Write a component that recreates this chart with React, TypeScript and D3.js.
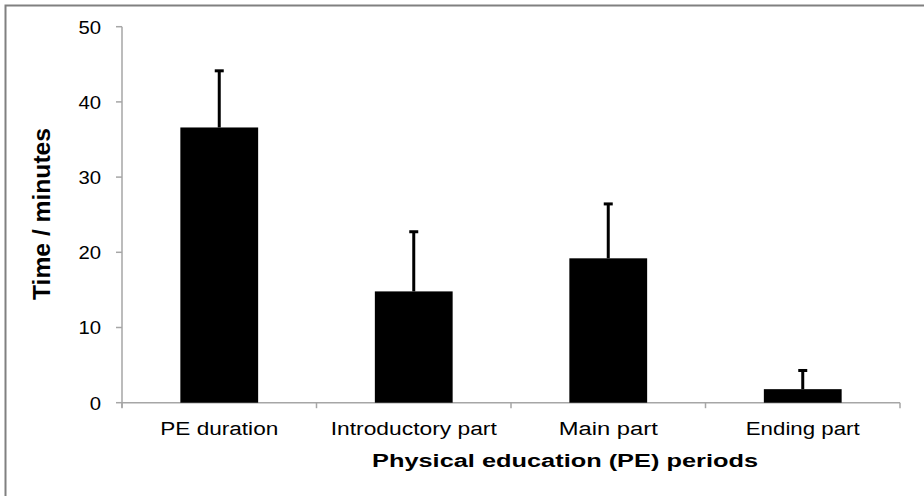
import React from 'react';
import * as d3 from 'd3';

// valores
const categories = ['PE duration', 'Introductory part', 'Main part', 'Ending part'];
const means = [36.6, 14.8, 19.2, 1.8];
const sds = [7.6, 8.0, 7.3, 2.55];
const yTicks = [0, 10, 20, 30, 40, 50];
// largura medida dos rótulos (texto esticado no original)
const labelWidths = [118, 166, 99, 114];

const App = () => {
  const width = 924;
  const height = 496;
  const left = 122;
  const right = 900;
  const top = 26.7;
  const bottom = 402.7;
  const axisColor = '#a6a6a6';
  const font = '"Liberation Sans", Arial, sans-serif';

  const x = d3
    .scaleBand<string>()
    .domain(categories)
    .range([left, right])
    .paddingInner(0.6)
    .paddingOuter(0.3);
  const y = d3.scaleLinear().domain([0, 50]).range([bottom, top]);
  const step = x.step();
  const bounds = d3.range(categories.length + 1).map((i) => left + i * step);

  return (
    <svg
      width={width}
      height={height}
      style={{ position: 'absolute', left: 0, top: 0, background: '#fff' }}
    >
      <rect x={0} y={0} width={width} height={height} fill="#fff" />
      {/* moldura */}
      <rect x={5.5} y={5.5} width={width + 20} height={height + 20} fill="none" stroke="#808080" strokeWidth={2} />

      {/* eixo Y */}
      <line x1={left} x2={left} y1={top} y2={bottom + 5} stroke={axisColor} strokeWidth={1.5} />
      {yTicks.map((t) => (
        <g key={t}>
          <line x1={left - 6} x2={left} y1={y(t)} y2={y(t)} stroke={axisColor} strokeWidth={1.5} />
          <text
            x={101}
            y={y(t) + 6.8}
            textAnchor="end"
            fontFamily={font}
            fontSize={18}
            textLength={String(t).length * 11.3}
            lengthAdjust="spacingAndGlyphs"
            fill="#000"
          >
            {t}
          </text>
        </g>
      ))}

      {/* eixo X */}
      <line x1={left} x2={right} y1={bottom} y2={bottom} stroke={axisColor} strokeWidth={1.5} />
      {bounds.map((b, i) => (
        <line key={i} x1={b} x2={b} y1={bottom} y2={bottom + 5.5} stroke={axisColor} strokeWidth={1.5} />
      ))}

      {/* barras */}
      {categories.map((c, i) => (
        <rect key={c} x={x(c)} y={y(means[i])} width={x.bandwidth()} height={y(0) - y(means[i])} fill="#000" />
      ))}

      {/* barras de erro */}
      {categories.map((c, i) => {
        const cx = (x(c) || 0) + x.bandwidth() / 2;
        const yt = y(means[i] + sds[i]);
        return (
          <g key={c}>
            <line x1={cx} x2={cx} y1={y(means[i])} y2={yt} stroke="#000" strokeWidth={3} />
            <rect x={cx - 4.5} y={yt - 1} width={9} height={3} fill="#000" />
          </g>
        );
      })}

      {/* rótulos das categorias */}
      {categories.map((c, i) => (
        <text
          key={c}
          x={(x(c) || 0) + x.bandwidth() / 2}
          y={435}
          textAnchor="middle"
          fontFamily={font}
          fontSize={18}
          textLength={labelWidths[i]}
          lengthAdjust="spacingAndGlyphs"
          fill="#000"
        >
          {c}
        </text>
      ))}

      {/* títulos */}
      <text
        x={372}
        y={467}
        fontFamily={font}
        fontSize={18}
        fontWeight="bold"
        textLength={386}
        lengthAdjust="spacingAndGlyphs"
        fill="#000"
      >
        Physical education (PE) periods
      </text>
      <text
        transform={`translate(49.5, 214) rotate(-90)`}
        textAnchor="middle"
        fontFamily={font}
        fontSize={23}
        fontWeight="bold"
        textLength={172}
        lengthAdjust="spacingAndGlyphs"
        fill="#000"
      >
        Time / minutes
      </text>
    </svg>
  );
};

export default App;
